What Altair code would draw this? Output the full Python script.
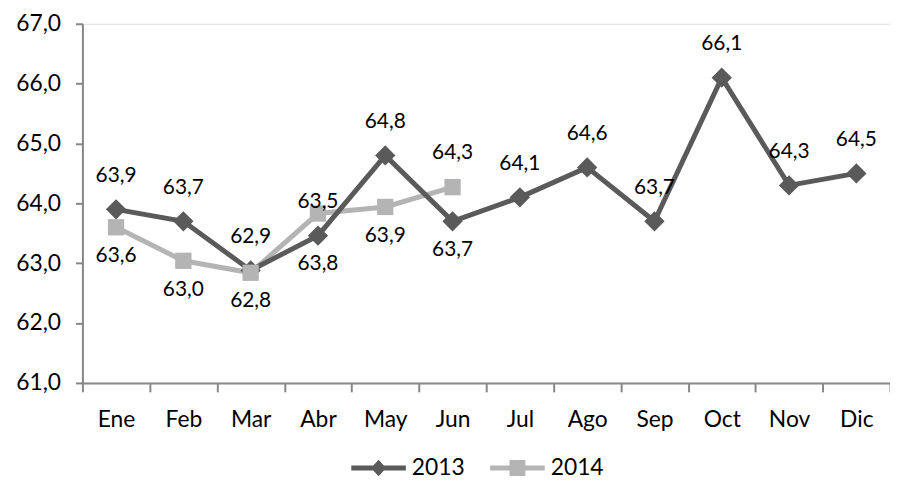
import altair as alt
import pandas as pd

months = ["Ene", "Feb", "Mar", "Abr", "May", "Jun", "Jul", "Ago", "Sep", "Oct", "Nov", "Dic"]
series_2013 = [63.9, 63.7, 62.88, 63.46, 64.8, 63.7, 64.1, 64.6, 63.7, 66.1, 64.3, 64.5]
series_2014 = [63.6, 63.04, 62.84, 63.83, 63.94, 64.27]
labels_below_2013 = ["Jun"]
labels_above_2014 = ["Jun"]
labels_low_2014 = ["Abr"]
y_ticks = [61, 62, 63, 64, 65, 66, 67]
series_names = ["2013", "2014"]

rows = []
for m, v in zip(months, series_2013):
    rows.append({"mes": m, "serie": "2013", "valor": v,
                 "pos": "below" if m in labels_below_2013 else "above"})
for m, v in zip(months, series_2014):
    pos = "below"
    if m in labels_above_2014:
        pos = "above"
    elif m in labels_low_2014:
        pos = "low"
    rows.append({"mes": m, "serie": "2014", "valor": v, "pos": pos})
df = pd.DataFrame(rows)

FONT = "Lato"
DARK = "#5a5a5a"
LIGHT = "#b4b4b4"
AXIS = "#868686"

fmt = "replace(format(datum.value, '.1f'), '.', ',')"

x = alt.X("mes:N", sort=months, bandPosition=0.5,
          scale=alt.Scale(type="band", domain=months, paddingInner=0, paddingOuter=0),
          axis=alt.Axis(title=None, labelAngle=0, tickBand="extent", tickSize=9,
                        tickWidth=2, tickColor=AXIS, domainColor=AXIS, domainWidth=2,
                        labelFont=FONT, labelFontSize=23, labelColor="#000",
                        labelPadding=17, grid=False))
y = alt.Y("valor:Q", scale=alt.Scale(domain=[61, 67], nice=False, zero=False),
          axis=alt.Axis(title=None, values=y_ticks, labelExpr=fmt, grid=False,
                        tickSize=7, tickWidth=2, tickColor=AXIS, domainColor=AXIS,
                        domainWidth=2, labelFont=FONT, labelFontSize=23,
                        labelColor="#000", labelPadding=15))

base = alt.Chart(df).encode(x=x, y=y)

line13 = base.transform_filter("datum.serie == '2013'").mark_line(color=DARK, strokeWidth=5)
line14 = base.transform_filter("datum.serie == '2014'").mark_line(color=LIGHT, strokeWidth=5)
pts13 = base.transform_filter("datum.serie == '2013'").mark_point(
    shape="diamond", filled=True, size=420, color=DARK, opacity=1)
pts14 = base.transform_filter("datum.serie == '2014'").mark_point(
    shape="square", filled=True, size=270, color=LIGHT, opacity=1)

lab = base.transform_calculate(
    etiqueta="replace(format(datum.valor, '.1f'), '.', ',')")
text_above = lab.transform_filter("datum.pos == 'above'").mark_text(
    dy=-34, font=FONT, fontSize=21, color="#000").encode(text="etiqueta:N")
text_below = lab.transform_filter("datum.pos == 'below'").mark_text(
    dy=29, font=FONT, fontSize=21, color="#000").encode(text="etiqueta:N")
text_low = lab.transform_filter("datum.pos == 'low'").mark_text(
    dy=51, font=FONT, fontSize=21, color="#000").encode(text="etiqueta:N")

path13 = "M-1,-0.09L1,-0.09L1,0.09L-1,0.09Z M0,-0.3L0.28,0L0,0.3L-0.28,0Z"
path14 = "M-1,-0.09L1,-0.09L1,0.09L-1,0.09Z M-0.29,-0.29L0.29,-0.29L0.29,0.29L-0.29,0.29Z"

legend_layer = base.transform_filter("false").mark_point(filled=True, opacity=1).encode(
    color=alt.Color("serie:N", scale=alt.Scale(domain=series_names, range=[DARK, LIGHT]),
                    legend=alt.Legend(orient="none", legendX=270, legendY=419,
                                      direction="horizontal", title=None,
                                      symbolSize=3025, symbolOpacity=1,
                                      labelFont=FONT, labelFontSize=23,
                                      labelColor="#000", labelOffset=5,
                                      columnPadding=22, labelLimit=200)),
    shape=alt.Shape("serie:N", scale=alt.Scale(domain=series_names, range=[path13, path14])),
)

chart = alt.layer(line14, line13, pts13, pts14, text_above, text_below, text_low,
                  legend_layer).properties(
    width=814, height=362,
    autosize=alt.AutoSizeParams(type="none"),
    padding={"left": 75, "top": 14, "right": 0, "bottom": 100},
).configure_view(stroke=None).configure(background="white")

chart.save("out.html", embed_options={"renderer": "svg", "actions": False})
